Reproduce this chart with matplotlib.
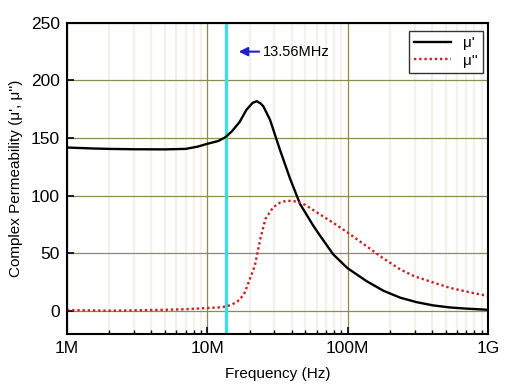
import numpy as np
import matplotlib.pyplot as plt
from matplotlib.ticker import FixedLocator, LogLocator, NullFormatter

plt.rcParams['font.family'] = ['Liberation Sans', 'DejaVu Sans']

# mu' (real part), frequency in MHz
f_real = [1, 1.5, 2, 3, 5, 7, 8.5, 10, 12, 13.56, 15, 17, 19, 21, 22.5, 24,
          25.1, 28, 33, 38.9, 45.8, 57, 63, 79, 100, 137, 180, 237, 310, 407,
          537, 700, 1000]
mu_real = [141.8, 141, 140.6, 140.3, 140.2, 140.6, 142.5, 145, 147.5, 151, 156,
           164, 174.5, 180.5, 182, 180, 177.5, 165.8, 139.5, 114.7, 92.8, 73.8,
           66, 49, 37, 25.7, 17.5, 11.5, 7.6, 4.8, 3, 2, 1]

# mu'' (imaginary part)
f_imag = [1, 2, 3, 5, 7, 10, 12, 13.56, 15, 17, 18.5, 20, 21.8, 23.8, 26, 29.5,
          33, 36.8, 43, 50, 63, 80, 100, 152, 180, 237, 300, 400, 537, 750, 1000]
mu_imag = [0.8, 0.2, 0.5, 1, 1.5, 2.5, 3, 3.8, 5.5, 9.6, 16, 27, 39, 62, 80, 90,
           94, 95.7, 95, 92, 84, 76, 68, 52, 45.5, 36, 30, 25, 20, 16, 13]

x_ticks = [1e6, 1e7, 1e8, 1e9]
x_labels = ['1M', '10M', '100M', '1G']
y_ticks = [0, 50, 100, 150, 200, 250]
f_mark = 13.56e6


def main():
    fig = plt.figure(figsize=(5.11, 3.87), dpi=100)
    ax = fig.add_axes([0.131, 0.137, 0.824, 0.804])

    ax.plot(np.array(f_real) * 1e6, mu_real, color='black', lw=1.7, label="\u03bc'")
    ax.plot(np.array(f_imag) * 1e6, mu_imag, color='#cc2020', lw=1.7,
            linestyle=(0, (1, 1.2)), label="\u03bc''")

    ax.axvline(f_mark, color='#40dde0', lw=2.4, zorder=1)

    ax.set_xscale('log')
    ax.set_xlim(1e6, 1e9)
    ax.set_ylim(-20, 250)
    ax.set_xticks(x_ticks)
    ax.set_xticklabels(x_labels)
    ax.xaxis.set_minor_locator(LogLocator(base=10, subs=np.arange(2, 10)))
    ax.xaxis.set_minor_formatter(NullFormatter())
    ax.yaxis.set_major_locator(FixedLocator(y_ticks))

    ax.grid(True, which='major', color='#8c8c50', lw=0.9, zorder=0)
    ax.grid(True, which='minor', axis='x', color='#f2f2ea', lw=1.6, zorder=0)
    ax.set_axisbelow(True)

    ax.tick_params(which='both', direction='in', top=False, right=False)
    ax.tick_params(which='major', length=5, width=1.2, labelsize=12.5, pad=5)
    ax.tick_params(which='minor', length=3, width=1)
    for s in ax.spines.values():
        s.set_linewidth(1.5)

    ax.annotate('', xy=(16.0e6, 225), xytext=(24.5e6, 225),
                arrowprops=dict(arrowstyle='-|>', color='#2020c8', lw=1.5,
                                mutation_scale=13))
    ax.text(25e6, 225, '13.56MHz', fontsize=10.5, va='center', ha='left')

    ax.set_xlabel('Frequency (Hz)', fontsize=11, labelpad=8)
    ax.set_ylabel("Complex Permeability (\u03bc', \u03bc'')", fontsize=11, labelpad=6)

    leg = ax.legend(loc='upper right', fontsize=11, frameon=True, fancybox=False,
                    edgecolor='black', handlelength=2.4, borderpad=0.35,
                    labelspacing=0.25, borderaxespad=0.3,
                    bbox_to_anchor=(1.0, 0.99))
    leg.get_frame().set_linewidth(1.0)

    fig.savefig('out.png', dpi=100)


if __name__ == "__main__":
    main()
